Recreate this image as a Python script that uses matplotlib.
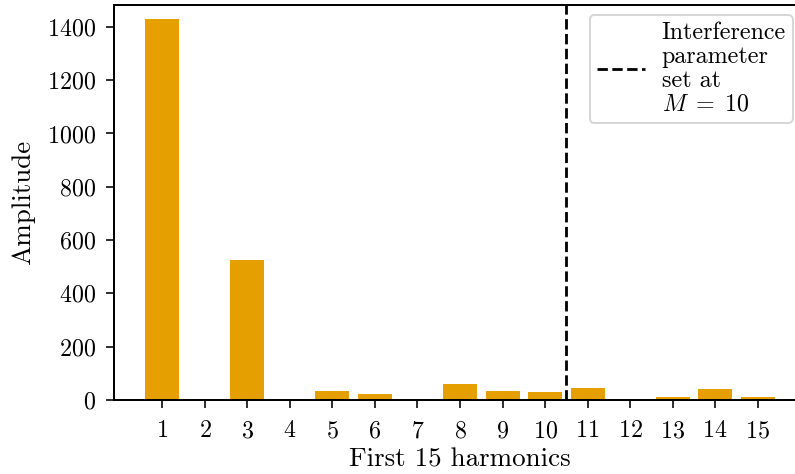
import matplotlib
matplotlib.use("Agg")
import matplotlib.pyplot as plt

# harmonic amplitudes
harmonics = list(range(1, 16))
amplitudes = [1429, 0, 525, 0, 35, 22, 5, 60, 35, 31, 45, 4, 12, 41, 11]
cutoff_m = 10
bar_color = "#E69F00"

plt.rcParams["font.family"] = "serif"
plt.rcParams["font.serif"] = ["cmr10"]
plt.rcParams["mathtext.fontset"] = "cm"
plt.rcParams["axes.formatter.use_mathtext"] = True
plt.rcParams["font.size"] = 12
plt.rcParams["xtick.major.size"] = 4
plt.rcParams["ytick.major.size"] = 4
plt.rcParams["xtick.major.pad"] = 6
plt.rcParams["ytick.major.pad"] = 5

dpi = 144
fig = plt.figure(figsize=(795 / dpi, 474 / dpi), dpi=dpi)
# right spine sits just past the canvas edge, as in the reference crop
ax = fig.add_axes([114 / 795, 1 - 400 / 474, (806 - 114) / 795, (400 - 5) / 474])

ax.bar(harmonics, amplitudes, width=0.8, color=bar_color)
ax.axvline(cutoff_m + 0.5, color="k", linestyle="--", linewidth=1.4,
           label="Interference\nparameter\nset at\n$M \\;=\\; %d$" % cutoff_m)

ax.set_xticks(harmonics)
ax.set_xlim(-0.14, 16.14)
ax.set_ylim(0, 1482)
ax.set_xlabel("First 15 harmonics", fontsize=13.5, labelpad=3)
ax.set_ylabel("Amplitude", fontsize=13.5, labelpad=6)
for s in ax.spines.values():
    s.set_linewidth(1.0)

leg = ax.legend(loc="upper right", bbox_to_anchor=(793 / 795, 1 - 15 / 474),
                bbox_transform=fig.transFigure, borderaxespad=0, fontsize=12,
                handlelength=2.0, handletextpad=0.7, borderpad=0.3)
for t in leg.get_texts():
    t.set_linespacing(1.1)

fig.savefig("out.png", dpi=dpi)
